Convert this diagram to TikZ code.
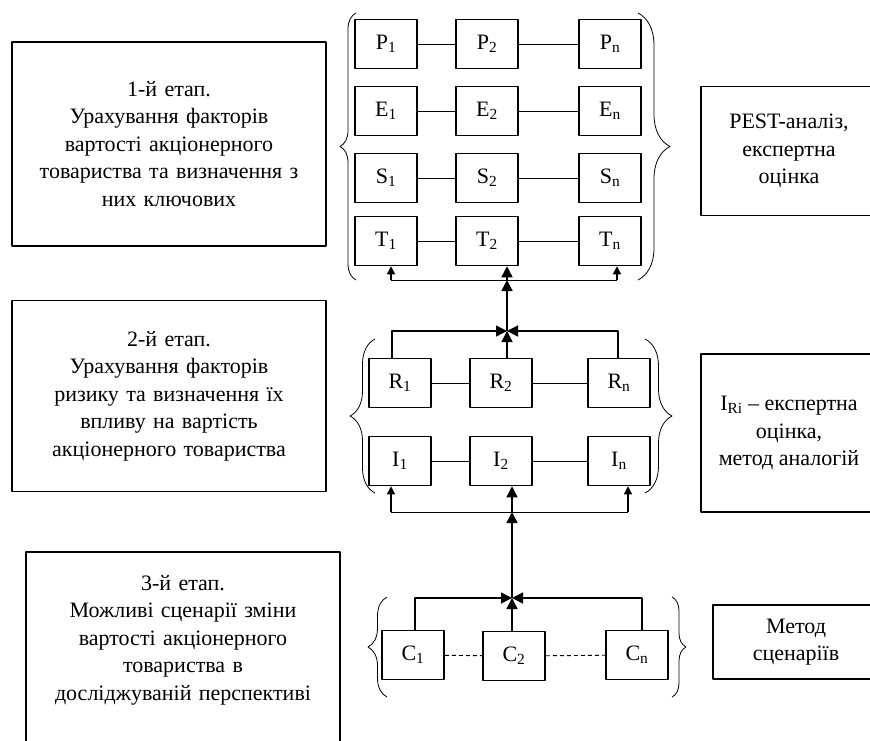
\documentclass[tikz,border=0pt]{standalone}
\usepackage{fontspec}
\setmainfont{Liberation Serif}
\usetikzlibrary{arrows.meta,decorations.pathreplacing}

\newcommand\txtsize{\fontsize{22}{27.5}\selectfont}
\tikzset{
  stagebox/.style={draw, line width=1.5pt, text width=300pt, align=center, minimum width=314pt, inner sep=0pt, font=\txtsize},
  methbox/.style={draw, line width=1.5pt, align=center, minimum width=176pt, inner sep=0pt, font=\txtsize},
  fbox/.style={draw, line width=1.5pt, minimum width=62pt, minimum height=49pt, inner sep=0pt, font=\txtsize},
  link/.style={line width=0.9pt},
  arr/.style={line width=1.4pt, -{Triangle[length=11pt,width=11pt]}},
  arrsm/.style={line width=1.2pt, -{Triangle[length=8pt,width=8pt]}},
  brc/.style={decorate, line width=0.8pt, decoration={brace, amplitude=#1}},
}

\begin{document}
\begin{tikzpicture}[x=1pt, y=-1pt, line join=round]
\useasboundingbox (0,0) rectangle (870,740);
\clip (0,0) rectangle (870,740);

% етапи
\node[stagebox, minimum height=204pt] (st1) at (169,144) {1-й етап.\\ Урахування факторів\\ вартості акціонерного\\ товариства та визначення з\\ них ключових};
\node[stagebox, minimum height=191pt] (st2) at (169,396) {2-й етап.\\ Урахування факторів\\ ризику та визначення їх\\ впливу на вартість\\ акціонерного товариства};
\node[stagebox, minimum height=230pt, anchor=north] (st3) at (183,551) {};
\node[stagebox, draw=none] (st3t) at (183,640) {3-й етап.\\ Можливі сценарії зміни\\ вартості акціонерного\\ товариства в\\ досліджуваній перспективі};

% методи
\node[methbox, minimum height=129pt] (m1) at (789,151) {PEST-аналіз,\\ експертна\\ оцінка};
\node[methbox, minimum height=158pt] (m2) at (789,433) {I\textsubscript{Ri} – експертна\\ оцінка,\\ метод аналогій};
\node[methbox, minimum width=166pt, minimum height=74pt] (m3) at (796,642) {Метод\\ сценаріїв};

% фактори
\foreach \rw/\y in {P/44, E/111, S/178, T/241}{
  \node[fbox] (\rw1) at (386,\y) {\rw\textsubscript{1}};
  \node[fbox] (\rw2) at (487,\y) {\rw\textsubscript{2}};
  \node[fbox] (\rw n) at (610,\y) {\rw\textsubscript{n}};
}
\foreach \rw/\y in {R/383, I/461}{
  \node[fbox] (\rw1) at (400,\y) {\rw\textsubscript{1}};
  \node[fbox] (\rw2) at (501,\y) {\rw\textsubscript{2}};
  \node[fbox] (\rw n) at (619,\y) {\rw\textsubscript{n}};
}
\node[fbox] (C1) at (413,655) {C\textsubscript{1}};
\node[fbox] (C2) at (514,656) {C\textsubscript{2}};
\node[fbox] (Cn) at (637,655) {C\textsubscript{n}};

\foreach \rw in {P,E,S,T,R,I}{
  \draw[link] (\rw1) -- (\rw2);
  \draw[link] (\rw2) -- (\rw n);
}
\draw[link, dash pattern=on 4pt off 3pt] (C1) -- (C2);
\draw[link, dash pattern=on 4pt off 3pt] (C2) -- (Cn);

% дужки
\draw[brc=16] (356,280) -- (356,13);
\draw[brc=32] (638,13) -- (638,280);
\draw[brc=25] (375,493) -- (375,339);
\draw[brc=27] (645,339) -- (645,493);
\draw[brc=19] (387,697) -- (387,597);
\draw[brc=14] (672,597) -- (672,697);

% зв'язки
\coordinate (M1) at (507,331);
\coordinate (M1l) at (392,331);
\coordinate (M1r) at (618,331);
\coordinate (B1) at (507,280);
\coordinate (B1l) at (391,280);
\coordinate (B1r) at (617,280);
\coordinate (M2) at (512,598);
\coordinate (M2l) at (415,598);
\coordinate (M2r) at (642,598);
\coordinate (B2) at (512,512);
\coordinate (B2l) at (391,512);
\coordinate (B2r) at (628,512);

\draw[link] (B1l) -- (B1r);
\foreach \n/\c in {T1/B1l, Tn/B1r} \draw[arrsm] (\c) -- (\c |- \n.south);
\draw[arr] (B1) -- (B1 |- T2.south);
\draw[arr] (M1) -- (B1);
\draw[arr] (M1l |- R1.north) -- (M1l) -- (M1);
\draw[arr] (M1r |- Rn.north) -- (M1r) -- (M1);
\draw[arr] (M1 |- R2.north) -- (M1);

\draw[link] (B2l) -- (B2r);
\foreach \n/\c in {I1/B2l, In/B2r} \draw[arrsm] (\c) -- (\c |- \n.south);
\draw[arr] (B2) -- (B2 |- I2.south);
\draw[arr] (M2) -- (B2);
\draw[arr] (M2l |- C1.north) -- (M2l) -- (M2);
\draw[arr] (M2r |- Cn.north) -- (M2r) -- (M2);
\draw[arr] (M2 |- C2.north) -- (M2);
\end{tikzpicture}
\end{document}
